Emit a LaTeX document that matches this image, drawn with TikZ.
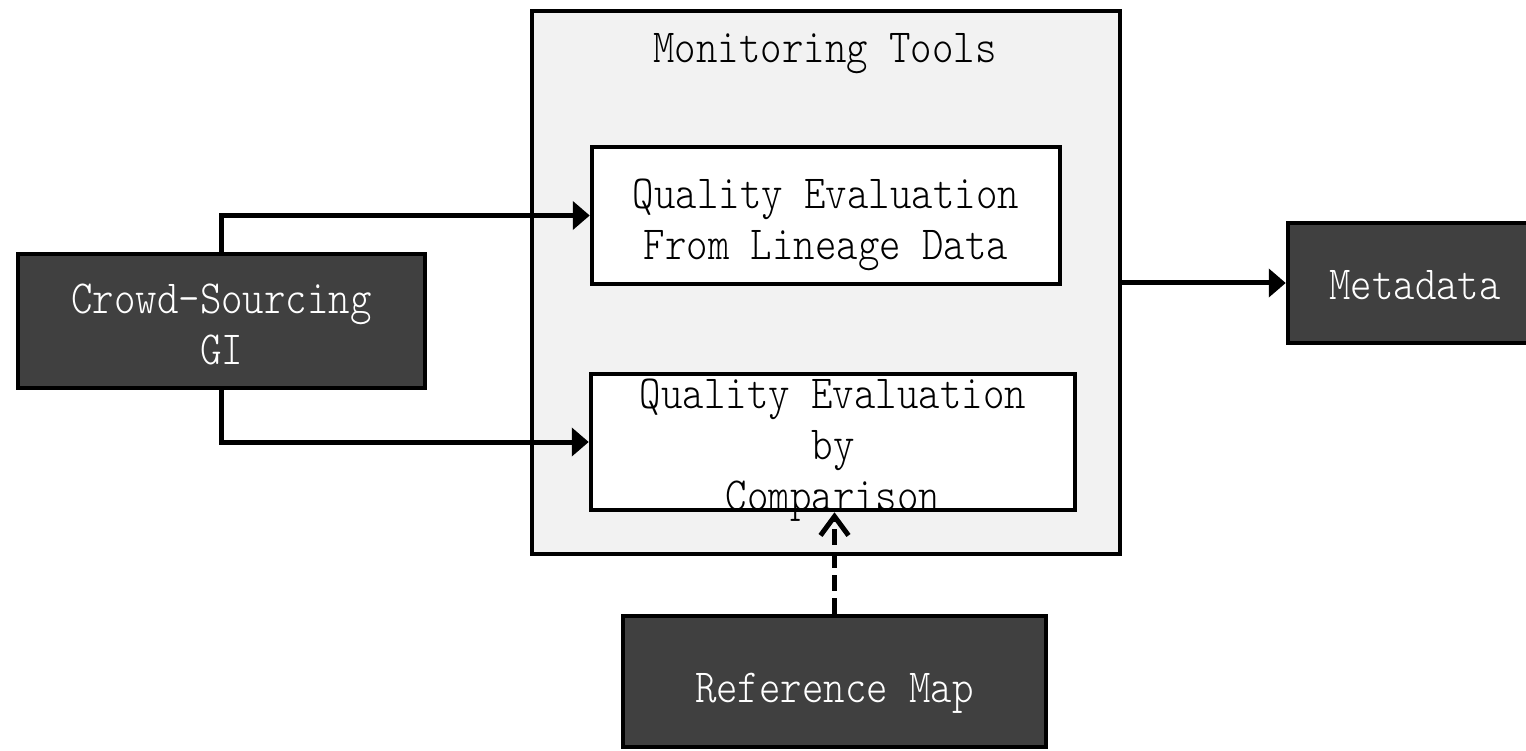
\documentclass[tikz,border=0pt]{standalone}
\usepackage{fontspec}
\newfontfamily\dfont{lmmonolt10-regular.otf}[FakeStretch=0.86]
\usetikzlibrary{arrows.meta}
\definecolor{darkfill}{HTML}{404040}
\definecolor{panelfill}{HTML}{F2F2F2}
\tikzset{
  frame/.style={draw=black, line width=4.5pt, inner sep=0pt},
  darkbox/.style={frame, fill=darkfill},
  whitebox/.style={frame, fill=white},
  panelbox/.style={frame, fill=panelfill},
  lbl/.style={inner sep=0pt, font=\dfont\fontsize{47.5}{51}\selectfont, align=center},
  lightlbl/.style={lbl, text=white},
  conn/.style={line width=5pt, -{Triangle[length=17pt,width=28pt]}},
  dconn/.style={line width=5pt, dash pattern=on 16pt off 7pt, -{Straight Barb[length=19pt,width=28pt,line width=5pt]}},
}
\begin{document}
\begin{tikzpicture}[x=1pt,y=-1pt]
\useasboundingbox (0,0) rectangle (1526,751);
\clip (0,0) rectangle (1526,751);
% panel
\node[panelbox, minimum width=588pt, minimum height=543pt] (panel) at (826,282.5) {};
\node[lbl, anchor=base] (title) at (825,63) {Monitoring Tools};
% inner boxes
\node[whitebox, minimum width=468pt, minimum height=137pt] (box1) at (826,215.5) {};
\node[lbl, anchor=north] (box1t) at (826,179) {Quality Evaluation\\From Lineage Data};
\node[whitebox, minimum width=484pt, minimum height=136pt] (box2) at (833,442) {};
\node[lbl, anchor=north] (box2t) at (833,379) {Quality Evaluation\\by\\Comparison};
% dark boxes
\node[darkbox, minimum width=407pt, minimum height=134pt] (crowd) at (221.5,321) {};
\node[lightlbl, anchor=north] (crowdt) at (221.5,284) {Crowd-Sourcing\\GI};
\node[darkbox, minimum width=272pt, minimum height=120pt] (meta) at (1424,283) {};
\node[lightlbl, anchor=base] (metat) at (1415,300) {Metadata};
\node[darkbox, minimum width=423pt, minimum height=131pt] (ref) at (834.5,681.5) {};
\node[lightlbl, anchor=base] (reft) at (834.5,702) {Reference Map};
% connectors
\draw[conn] (crowd.north) |- (box1.west);
\draw[conn] (crowd.south) |- (box2.west);
\draw[conn] (panel.east |- meta.west) -- (meta.west);
\draw[dconn] (ref.north) -- (ref.north |- box2.south);
\end{tikzpicture}
\end{document}
